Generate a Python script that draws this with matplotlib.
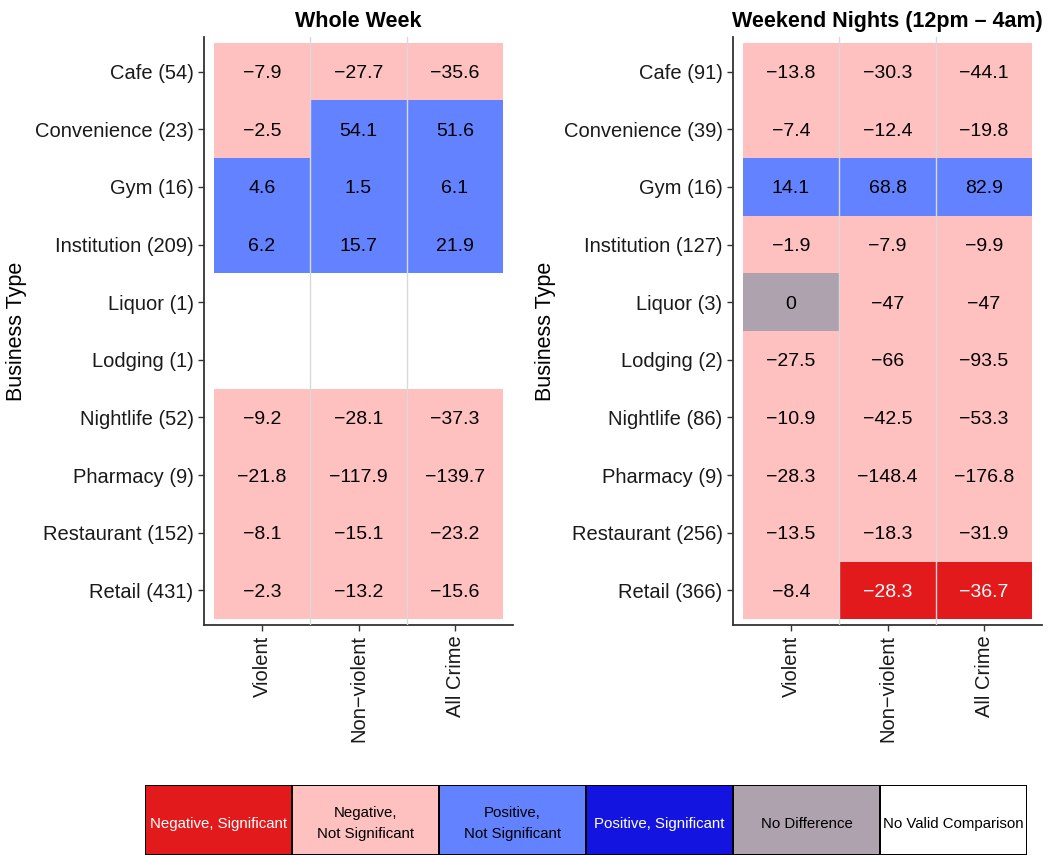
import matplotlib.pyplot as plt
import numpy as np
from matplotlib.colors import ListedColormap

plt.rcParams['font.family'] = ['Liberation Sans', 'DejaVu Sans']

nan = np.nan

crime_types = ['Violent', 'Non\u2212violent', 'All Crime']

# status codes: 0 neg sig, 1 neg n.s., 2 pos n.s., 3 pos sig, 4 no diff, 5 no valid
status_names = ['Negative, Significant', 'Negative,\nNot Significant',
                'Positive,\nNot Significant', 'Positive, Significant',
                'No Difference', 'No Valid Comparison']
status_colors = ['#E31A1C', '#FFC0C0', '#6282FF', '#1414E1', '#AFA2AF', '#FFFFFF']

# Whole week
week_labels = ['Cafe (54)', 'Convenience (23)', 'Gym (16)', 'Institution (209)',
               'Liquor (1)', 'Lodging (1)', 'Nightlife (52)', 'Pharmacy (9)',
               'Restaurant (152)', 'Retail (431)']
week_violent = [-7.9, -2.5, 4.6, 6.2, nan, nan, -9.2, -21.8, -8.1, -2.3]
week_nonviolent = [-27.7, 54.1, 1.5, 15.7, nan, nan, -28.1, -117.9, -15.1, -13.2]
week_all = [-35.6, 51.6, 6.1, 21.9, nan, nan, -37.3, -139.7, -23.2, -15.6]
week_st_violent = [1, 1, 2, 2, 5, 5, 1, 1, 1, 1]
week_st_nonviolent = [1, 2, 2, 2, 5, 5, 1, 1, 1, 1]
week_st_all = [1, 2, 2, 2, 5, 5, 1, 1, 1, 1]

# Weekend nights
wknd_labels = ['Cafe (91)', 'Convenience (39)', 'Gym (16)', 'Institution (127)',
               'Liquor (3)', 'Lodging (2)', 'Nightlife (86)', 'Pharmacy (9)',
               'Restaurant (256)', 'Retail (366)']
wknd_violent = [-13.8, -7.4, 14.1, -1.9, 0, -27.5, -10.9, -28.3, -13.5, -8.4]
wknd_nonviolent = [-30.3, -12.4, 68.8, -7.9, -47, -66, -42.5, -148.4, -18.3, -28.3]
wknd_all = [-44.1, -19.8, 82.9, -9.9, -47, -93.5, -53.3, -176.8, -31.9, -36.7]
wknd_st_violent = [1, 1, 2, 1, 4, 1, 1, 1, 1, 1]
wknd_st_nonviolent = [1, 1, 2, 1, 1, 1, 1, 1, 1, 0]
wknd_st_all = [1, 1, 2, 1, 1, 1, 1, 1, 1, 0]

cmap = ListedColormap(status_colors)
W, H = 1051, 855


def fmt(v):
    return '{:g}'.format(v).replace('-', '\u2212')


def heat(ax, title, labels, values, status):
    vals = np.array(values).T
    st = np.array(status).T
    nr, nc = vals.shape
    xe = np.arange(nc + 1) + 0.5
    ye = np.arange(nr + 1) + 0.5
    ax.pcolormesh(xe, ye, st, cmap=cmap, vmin=-0.5, vmax=5.5, zorder=1)
    for i in range(nr):
        for j in range(nc):
            if np.isnan(vals[i, j]):
                continue
            c = 'white' if st[i, j] in (0, 3) else 'black'
            ax.text(j + 1, i + 1, fmt(vals[i, j]), ha='center',
                    va='center_baseline', fontsize=14, color=c, zorder=3)
    ax.set_xlim(0.4, nc + 0.6)
    ax.set_ylim(nr + 0.6, 0.4)
    ax.set_xticks(np.arange(1, nc + 1))
    ax.set_xticklabels(crime_types, rotation=90, fontsize=14.5, color='#1a1a1a')
    ax.set_yticks(np.arange(1, nr + 1))
    ax.set_yticklabels(labels, fontsize=14.5, color='#1a1a1a')
    ax.set_xticks(np.arange(1.5, nc), minor=True)
    ax.tick_params(which='minor', length=0)
    ax.tick_params(which='major', length=4, width=1, color='#333333')
    ax.grid(which='minor', axis='x', color='#d9d9d9', linewidth=1)
    ax.set_axisbelow(False)
    for s in ['top', 'right']:
        ax.spines[s].set_visible(False)
    for s in ['left', 'bottom']:
        ax.spines[s].set_color('#333333')
        ax.spines[s].set_linewidth(1.3)
    ax.set_title(title, fontsize=15.5, fontweight='bold', pad=7)
    ax.set_ylabel('Business Type', fontsize=15.5)


fig = plt.figure(figsize=(W / 100, H / 100), dpi=100)
ax1 = fig.add_axes([204 / W, 1 - 625 / H, 309 / W, 588 / H])
ax2 = fig.add_axes([733 / W, 1 - 625 / H, 309 / W, 588 / H])
heat(ax1, 'Whole Week', week_labels,
     [week_violent, week_nonviolent, week_all],
     [week_st_violent, week_st_nonviolent, week_st_all])
heat(ax2, 'Weekend Nights (12pm \u2013 4am)', wknd_labels,
     [wknd_violent, wknd_nonviolent, wknd_all],
     [wknd_st_violent, wknd_st_nonviolent, wknd_st_all])
ax1.yaxis.set_label_coords((27 - 204) / 309, 0.5)
ax2.yaxis.set_label_coords((556 - 733) / 309, 0.5)

# legend strip
lax = fig.add_axes([145 / W, 0, 882 / W, 70 / H])
codes = np.arange(len(status_names)).reshape(1, -1)
lax.pcolormesh(np.arange(len(status_names) + 1), [0, 1], codes, cmap=cmap,
               vmin=-0.5, vmax=5.5, edgecolors='black', linewidth=1.2)
for k, name in enumerate(status_names):
    c = 'white' if k in (0, 3) else 'black'
    lax.text(k + 0.5, 0.45, name, ha='center', va='center', fontsize=10.8,
             color=c, linespacing=1.55)
lax.set_xlim(0, len(status_names))
lax.set_ylim(0, 1)
lax.axis('off')

fig.savefig('out.png', dpi=100)
